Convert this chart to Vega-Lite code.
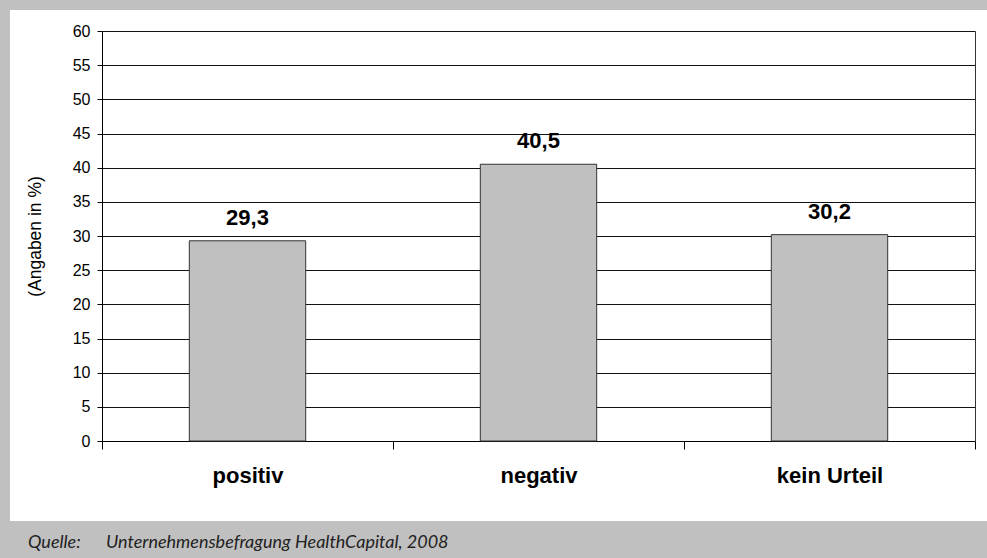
{
  "$schema": "https://vega.github.io/schema/vega-lite/v6.json",
  "width": 977,
  "height": 511,
  "autosize": {"type": "none"},
  "padding": {"left": 10, "top": 10, "right": 0, "bottom": 37},
  "background": "#c0c0c0",
  "view": {"fill": "white", "stroke": null},
  "config": {
    "locale": {"number": {"decimal": ",", "thousands": ".", "grouping": [3], "currency": ["", " €"]}},
    "font": "Liberation Sans"
  },
  "title": {
    "text": "Quelle:\u00a0\u00a0\u00a0\u00a0\u00a0\u00a0Unternehmensbefragung HealthCapital, 2008",
    "orient": "bottom",
    "anchor": "start",
    "frame": "group",
    "offset": 27,
    "dx": 18,
    "baseline": "alphabetic",
    "font": "Lato",
    "fontStyle": "italic",
    "fontWeight": "normal",
    "fontSize": 18,
    "color": "#222222"
  },
  "data": {
    "values": [
      {"Urteil": "positiv", "Anteil": 29.3},
      {"Urteil": "negativ", "Anteil": 40.5},
      {"Urteil": "kein Urteil", "Anteil": 30.2}
    ]
  },
  "encoding": {
    "x": {
      "field": "Urteil",
      "type": "nominal",
      "sort": null,
      "scale": {"range": [92, 965], "paddingInner": 0, "paddingOuter": 0},
      "axis": {
        "orient": "bottom",
        "offset": -80,
        "tickBand": "extent",
        "tickSize": 8,
        "tickColor": "black",
        "domainColor": "black",
        "labelFontSize": 22,
        "labelFontWeight": "bold",
        "labelColor": "black",
        "labelPadding": 33,
        "labelBaseline": "alphabetic",
        "labelAngle": 0,
        "title": null,
        "grid": false
      }
    }
  },
  "layer": [
    {
      "mark": {"type": "bar", "width": {"band": 0.4}, "fill": "#c0c0c0", "stroke": "#333333", "strokeWidth": 1},
      "encoding": {
        "y": {
          "field": "Anteil",
          "type": "quantitative",
          "scale": {"domain": [0, 60], "range": [431, 21], "nice": false},
          "axis": {
            "orient": "left",
            "offset": -92,
            "values": [0, 5, 10, 15, 20, 25, 30, 35, 40, 45, 50, 55, 60],
            "domainColor": "black",
            "tickColor": "black",
            "tickSize": 5,
            "labelFontSize": 16,
            "labelColor": "black",
            "labelPadding": 7,
            "grid": true,
            "gridColor": "#111111",
            "gridOpacity": 1,
            "title": "(Angaben in %)",
            "titleFontSize": 17.5,
            "titleFontWeight": "normal",
            "titleColor": "black",
            "titlePadding": 28
          }
        }
      }
    },
    {
      "mark": {"type": "text", "dy": -16, "baseline": "alphabetic", "fontSize": 22, "fontWeight": "bold", "color": "black"},
      "encoding": {
        "text": {"field": "Anteil", "type": "quantitative", "format": ".1f"},
        "y": {
          "field": "Anteil",
          "type": "quantitative",
          "scale": {"domain": [0, 60], "range": [431, 21], "nice": false},
          "axis": {
            "orient": "right",
            "offset": -12,
            "domain": true,
            "domainColor": "#333333",
            "ticks": false,
            "labels": false,
            "grid": false,
            "title": null
          }
        }
      }
    }
  ],
  "resolve": {"axis": {"y": "independent"}}
}
